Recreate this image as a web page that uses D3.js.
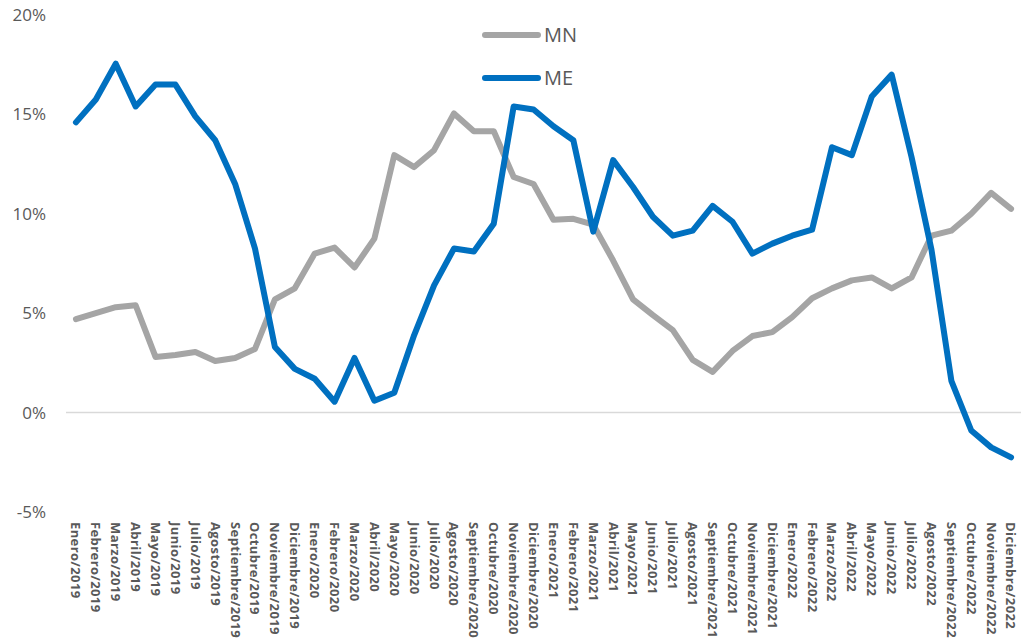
<!DOCTYPE html>
<html>
<head>
<meta charset="utf-8">
<script src="https://cdn.jsdelivr.net/npm/d3@7"></script>
<style>
  body { margin: 0; background: #fff; }
  svg { display: block; font-family: "Open Sans", "Noto Sans", sans-serif; }
</style>
</head>
<body>
<div id="chart"></div>
<script>
// month names and years for the category axis
var months = ["Enero", "Febrero", "Marzo", "Abril", "Mayo", "Junio", "Julio",
              "Agosto", "Septiembre", "Octubre", "Noviembre", "Diciembre"];
var years = [2019, 2020, 2021, 2022];

// MN series (%), one value per month
var mnValues = [4.7, 5.0, 5.3, 5.4, 2.8, 2.9, 3.05, 2.6, 2.75, 3.2, 5.7, 6.25,
                8.0, 8.3, 7.3, 8.75, 12.95, 12.35, 13.2, 15.05, 14.15, 14.15, 11.85, 11.5,
                9.7, 9.75, 9.45, 7.65, 5.7, 4.9, 4.15, 2.65, 2.05, 3.1, 3.85, 4.05,
                4.8, 5.75, 6.25, 6.65, 6.8, 6.25, 6.8, 8.9, 9.15, 10.0, 11.05, 10.25];

// ME series (%)
var meValues = [14.6, 15.75, 17.55, 15.4, 16.5, 16.5, 14.9, 13.7, 11.5, 8.25, 3.3, 2.2,
                1.7, 0.55, 2.75, 0.6, 1.0, 3.9, 6.4, 8.25, 8.1, 9.5, 15.4, 15.25,
                14.4, 13.7, 9.1, 12.7, 11.35, 9.85, 8.9, 9.15, 10.4, 9.6, 8.0, 8.5,
                8.9, 9.2, 13.35, 12.95, 15.9, 17.0, 12.85, 8.2, 1.6, -0.9, -1.75, -2.25];

var yTicks = [-5, 0, 5, 10, 15, 20];

var categories = [];
years.forEach(function(y) {
  months.forEach(function(m) { categories.push(m + "/" + y); });
});

var series = [
  { name: "MN", values: mnValues, color: "#A5A5A5" },
  { name: "ME", values: meValues, color: "#0070C0" }
];

var width = 1021, height = 641;
var plotLeft = 66, plotRight = 1021;

var svg = d3.select("#chart").append("svg")
    .attr("width", width)
    .attr("height", height);

var x = d3.scaleBand()
    .domain(categories)
    .range([plotLeft, plotRight]);

// 20% sits at y=15, -5% at y=512
var y = d3.scaleLinear()
    .domain([-5, 20])
    .range([512, 15]);

// zero line only
svg.append("line")
    .attr("x1", plotLeft)
    .attr("x2", plotRight)
    .attr("y1", y(0))
    .attr("y2", y(0))
    .attr("stroke", "#D9D9D9")
    .attr("stroke-width", 1.5);

// y axis labels
var yAxis = d3.axisLeft(y)
    .tickValues(yTicks)
    .tickFormat(function(d) { return d + "%"; })
    .tickSize(0)
    .tickPadding(0);

var gy = svg.append("g")
    .attr("transform", "translate(46,0)")
    .call(yAxis);
gy.select(".domain").remove();
gy.selectAll("text")
    .attr("fill", "#595959")
    .style("font-size", "17px")
    .style("font-family", "'Open Sans', 'Noto Sans', sans-serif");

// x axis labels, rotated
var xAxis = d3.axisBottom(x).tickSize(0).tickPadding(0);
var gx = svg.append("g")
    .attr("transform", "translate(0,522)")
    .call(xAxis);
gx.select(".domain").remove();
gx.selectAll("text")
    .attr("fill", "#595959")
    .attr("transform", "rotate(90)")
    .attr("text-anchor", "start")
    .attr("dy", "0.35em")
    .attr("x", 0)
    .attr("y", 0)
    .style("font-size", "13px")
    .style("letter-spacing", "0.4px")
    .style("font-weight", "bold")
    .style("font-family", "'Open Sans', 'Noto Sans', sans-serif");

// lines
var line = d3.line()
    .x(function(d, i) { return x(categories[i]) + x.bandwidth() / 2; })
    .y(function(d) { return y(d); });

series.forEach(function(s) {
  svg.append("path")
      .datum(s.values)
      .attr("fill", "none")
      .attr("stroke", s.color)
      .attr("stroke-width", 6)
      .attr("stroke-linejoin", "round")
      .attr("stroke-linecap", "round")
      .attr("d", line);
});

// legend
var legend = svg.append("g");
series.forEach(function(s, i) {
  var ly = 35 + i * 43;
  legend.append("line")
      .attr("x1", 485).attr("x2", 538)
      .attr("y1", ly).attr("y2", ly)
      .attr("stroke", s.color)
      .attr("stroke-width", 6)
      .attr("stroke-linecap", "round");
  legend.append("text")
      .attr("x", 544)
      .attr("y", ly)
      .attr("dy", "0.35em")
      .attr("fill", "#595959")
      .style("font-size", "20px")
      .text(s.name);
});
</script>
</body>
</html>
